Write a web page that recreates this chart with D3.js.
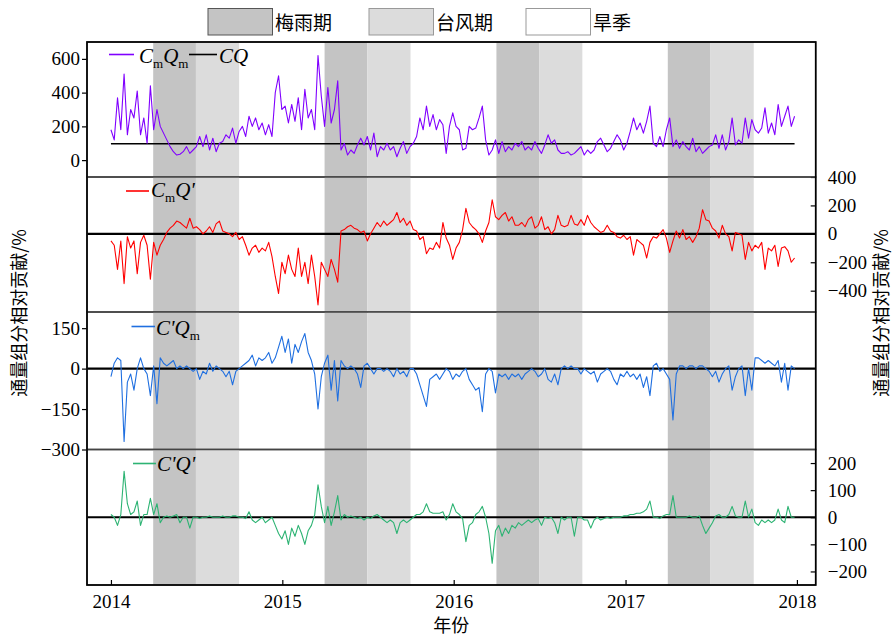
<!DOCTYPE html>
<html><head><meta charset="utf-8">
<script src="https://cdn.jsdelivr.net/npm/d3@7"></script>
<style>body{margin:0;background:#fff}svg{display:block}</style>
</head><body>
<svg id="c" width="892" height="637"></svg>
<script>
// ---- data (weekly samples from 2014-01-01) ----
const startDate = "2014-01-01";
const yearTicks = [2014, 2015, 2016, 2017, 2018];
const seasonYears = [2014, 2015, 2016, 2017];
const meiyu = ["04-01", "07-01"];
const typhoon = ["07-01", "10-01"];
const CQ = 97;

const CmQm = [180,120,370,180,510,150,300,250,410,150,250,100,440,180,300,200,160,120,80,50,
30,35,50,80,40,60,80,140,80,150,60,130,50,100,110,150,130,190,100,170,
200,140,260,200,250,180,220,150,210,140,400,500,300,320,220,330,230,370,180,420,
250,300,180,620,380,200,430,220,300,470,60,100,30,60,40,90,130,90,140,60,
160,20,80,60,100,60,80,20,70,110,40,80,100,140,250,180,320,200,270,180,
240,210,40,200,280,200,180,60,70,200,180,190,250,320,120,30,60,120,40,110,
50,80,60,100,80,110,60,80,60,110,70,40,90,150,100,120,60,40,40,50,
30,40,60,80,30,60,40,60,110,130,90,50,70,110,150,120,60,100,170,250,
180,220,160,230,320,100,80,140,80,180,250,80,120,70,110,80,60,130,50,80,
40,60,80,90,150,70,150,60,110,250,90,120,100,250,130,240,180,160,190,310,
160,220,150,330,200,260,320,200,260];

const CmQp = [-50,-80,-250,-50,-350,-20,-100,-50,-280,-60,-10,-80,-320,-60,-150,-80,-40,10,40,60,
90,80,60,40,110,40,50,30,0,20,50,10,70,90,20,10,0,-20,10,-40,
-20,-80,-150,-100,-80,-130,-100,-120,-60,-160,-300,-420,-200,-280,-150,-250,-300,-100,-300,-200,
-350,-150,-300,-500,-200,-250,-300,-180,-250,-340,20,30,50,60,40,30,10,20,-50,0,
40,80,50,90,60,80,100,150,80,110,60,90,30,20,-40,-20,-140,-100,-110,-60,
-100,80,-30,-80,-180,-100,-60,30,180,80,50,30,0,-60,20,80,240,120,100,130,
150,90,120,60,60,80,50,100,120,40,60,120,30,50,0,30,130,60,50,60,
130,70,60,100,60,130,80,50,30,10,20,60,20,10,-20,-30,-10,-40,-20,-150,
-40,-60,-80,-170,-60,-20,-30,0,30,-30,-130,-50,20,-30,30,-40,-20,-60,-20,40,
170,100,90,40,20,-30,60,0,-20,-120,10,0,-10,-180,-60,-120,-80,-100,-60,-250,
-100,-120,-80,-230,-100,-90,-120,-200,-170];

const CpQm = [-30,20,40,30,-270,-50,-20,-80,0,40,0,-20,-100,10,-130,40,20,10,20,30,
0,10,0,10,0,-10,0,-40,-10,-20,20,-10,10,0,-10,-30,-10,-60,-10,0,
10,20,30,50,10,40,30,40,60,20,40,80,120,60,110,20,90,60,100,130,
60,30,-20,-150,-30,20,50,-80,30,-120,30,10,0,10,0,-20,-70,10,20,0,
-20,0,0,-10,0,-10,-30,0,-20,-10,-30,0,0,-20,-60,-100,-140,-40,-30,-20,
-40,-20,0,-10,-40,-20,-30,-10,0,-40,-60,-80,-70,-160,-20,0,-10,-90,-20,-30,
-20,-40,-20,-30,-20,-40,-20,-10,0,-10,-30,-20,0,-40,-50,-20,-60,0,10,0,
10,0,0,-20,0,-10,-20,-10,-50,-20,-10,0,-10,-40,-60,-20,-30,-10,-30,-20,
-40,-20,-70,-30,-100,10,20,-10,0,-20,-40,-190,-20,10,10,0,10,10,0,10,
10,0,-10,-30,-10,-50,-20,0,10,-80,-30,0,10,-100,0,-80,40,40,30,20,
30,20,10,30,-50,20,-80,10,0];

const CpQp = [10,0,-30,10,170,50,10,20,60,-30,10,10,70,10,50,-20,0,5,0,5,
10,-20,0,0,-40,0,0,-5,0,0,5,0,0,0,5,0,0,5,5,0,
0,-5,20,-10,-20,-10,0,-20,-10,0,-30,-60,-80,-50,-100,-40,-70,-30,-60,-100,
-50,-30,10,120,40,-20,40,-30,20,80,-10,10,0,5,0,-5,0,-10,0,-5,
5,10,0,-10,-20,-10,-20,-60,-20,-10,-20,-10,0,10,10,20,50,20,15,15,
15,20,-10,10,50,20,10,-5,-90,-30,-20,10,20,40,0,-60,-170,-50,-30,-70,
-40,-60,-30,-40,-20,-30,-20,-10,-20,-10,-5,-30,0,-5,0,-20,-60,0,-10,0,
0,-70,0,0,-10,-10,-40,-10,0,-10,-5,0,-5,0,0,0,5,5,10,10,
15,15,20,30,60,0,0,-5,5,10,10,80,0,0,0,0,5,0,0,5,
-30,-60,-40,-20,5,10,0,0,10,40,5,0,0,60,0,30,-20,-30,-10,-20,
-10,-20,-10,30,-10,-20,40,0,0];

const panelDefs = [
  {series: CmQm, color: "#8000ff", domain: [-100, 700], ticks: [0,200,400,600], side: "left", zero: false},
  {series: CmQp, color: "#ff0000", domain: [-550, 400], ticks: [-400,-200,0,200,400], side: "right", zero: true},
  {series: CpQm, color: "#1f6fe0", domain: [-300, 210], ticks: [-300,-150,0,150], side: "left", zero: true},
  {series: CpQp, color: "#2db373", domain: [-250, 250], ticks: [-200,-100,0,100,200], side: "right", zero: true}
];

// ---- layout ----
const L = 87, R = 815.7;
const bounds = [42, 177, 312, 449.5, 585];
const svg = d3.select("#c");
const numFont = "'Liberation Serif', 'Times New Roman', serif";
const cjkFont = "'Noto Sans CJK SC', 'Noto Sans', sans-serif";

const parse = d3.timeParse("%Y-%m-%d");
const t0 = parse(startDate);
const x = d3.scaleTime()
  .domain([d3.timeDay.offset(parse("2014-01-01"), -50.5), d3.timeDay.offset(parse("2018-01-01"), 40.5)])
  .range([L, R]);

const dates = CmQm.map((_, i) => d3.timeDay.offset(t0, 7 * i));

panelDefs.forEach((p, k) => {
  const top = bounds[k], bot = bounds[k + 1];
  const y = d3.scaleLinear().domain(p.domain).range([bot, top]);
  const g = svg.append("g");
  const cid = "clip" + k;
  g.append("clipPath").attr("id", cid).append("rect")
    .attr("x", L).attr("y", top).attr("width", R - L).attr("height", bot - top);
  const inner = g.append("g").attr("clip-path", `url(#${cid})`);
  // seasons
  seasonYears.forEach(yr => {
    const m0 = parse(`${yr}-${meiyu[0]}`), m1 = parse(`${yr}-${meiyu[1]}`);
    const t1 = parse(`${yr}-${typhoon[0]}`), t2 = parse(`${yr}-${typhoon[1]}`);
    inner.append("rect").attr("x", x(m0)).attr("y", top).attr("width", x(m1) - x(m0)).attr("height", bot - top).attr("fill", "#c4c4c4");
    inner.append("rect").attr("x", x(t1)).attr("y", top).attr("width", x(t2) - x(t1)).attr("height", bot - top).attr("fill", "#dcdcdc");
  });
  // zero / CQ line
  if (p.zero) {
    inner.append("line").attr("x1", L).attr("x2", R).attr("y1", y(0)).attr("y2", y(0))
      .attr("stroke", "#000").attr("stroke-width", 2.2);
  } else {
    inner.append("line").attr("x1", x(dates[0])).attr("x2", x(dates[dates.length - 1]))
      .attr("y1", y(CQ)).attr("y2", y(CQ)).attr("stroke", "#000").attr("stroke-width", 1.3);
  }
  // series
  const line = d3.line().x((d, i) => x(dates[i])).y(d => y(d));
  inner.append("path").datum(p.series).attr("d", line)
    .attr("fill", "none").attr("stroke", p.color).attr("stroke-width", 1.1).attr("stroke-linejoin", "round");
  // axis
  let ax;
  if (p.side === "left") {
    ax = d3.axisLeft(y).tickValues(p.ticks).tickSize(5).tickPadding(2);
    g.append("g").attr("transform", `translate(${L},0)`).call(ax);
  } else {
    ax = d3.axisRight(y).tickValues(p.ticks).tickSize(-5).tickPadding(12);
    g.append("g").attr("transform", `translate(${R},0)`).call(ax);
  }
  g.selectAll(".domain").remove();
  g.selectAll(".tick line").attr("stroke", "#000").attr("stroke-width", 1.2);
  g.selectAll(".tick text").attr("font-family", numFont).attr("font-size", 19).attr("fill", "#000");
  // frame
  g.append("rect").attr("x", L).attr("y", top).attr("width", R - L).attr("height", bot - top)
    .attr("fill", "none").attr("stroke", "#444").attr("stroke-width", 1.5);
});

// outer frame
svg.append("rect").attr("x", L).attr("y", bounds[0]).attr("width", R - L).attr("height", bounds[4] - bounds[0])
  .attr("fill", "none").attr("stroke", "#000").attr("stroke-width", 1.6);

// x axis
const xa = svg.append("g").attr("transform", `translate(0,${bounds[4]})`)
  .call(d3.axisBottom(x).tickValues(yearTicks.map(v => parse(`${v}-01-01`))).tickFormat(d3.timeFormat("%Y")).tickSize(-5).tickPadding(10));
xa.select(".domain").remove();
xa.selectAll(".tick line").attr("stroke", "#000").attr("stroke-width", 1.2);
xa.selectAll(".tick text").attr("font-family", numFont).attr("font-size", 19).attr("fill", "#000");

// axis titles
svg.append("text").attr("x", (L + R) / 2).attr("y", 632).attr("text-anchor", "middle")
  .attr("font-family", cjkFont).attr("font-size", 18).text("年份");
const ylab = "通量组分相对贡献/%";
svg.append("text").attr("transform", `translate(26,313) rotate(-90)`).attr("text-anchor", "middle")
  .attr("font-family", cjkFont).attr("font-size", 18).text(ylab);
svg.append("text").attr("transform", `translate(888,313) rotate(-90)`).attr("text-anchor", "middle")
  .attr("font-family", cjkFont).attr("font-size", 18).text(ylab);

// top legend
const seasonLegend = [
  {label: "梅雨期", fill: "#c4c4c4", stroke: "#555", x: 208},
  {label: "台风期", fill: "#dcdcdc", stroke: "#999", x: 369},
  {label: "旱季", fill: "#ffffff", stroke: "#999", x: 526}
];
seasonLegend.forEach(s => {
  svg.append("rect").attr("x", s.x).attr("y", 8.5).attr("width", 64.5).attr("height", 26.5)
    .attr("fill", s.fill).attr("stroke", s.stroke).attr("stroke-width", 1);
  svg.append("text").attr("x", s.x + 67).attr("y", 30).attr("font-family", cjkFont).attr("font-size", 19).text(s.label);
});

// panel legends
function legendLabel(xp, yp, parts) {
  const t = svg.append("text").attr("x", xp).attr("y", yp).attr("font-family", numFont).attr("font-size", 21);
  let sub = false;
  parts.forEach(pt => {
    const s = t.append("tspan").text(pt.t);
    if (pt.sub) { s.attr("font-size", 13).attr("dy", sub ? 0 : 5); sub = true; }
    else { s.attr("font-style", "italic"); if (sub) { s.attr("dy", -5); sub = false; } }
  });
}
const legs = [
  {x1: 109, x2: 134, y: 54.5, color: "#8000ff", tx: 139, ty: 63, parts: [{t:"C"},{t:"m",sub:1},{t:"Q"},{t:"m",sub:1}]},
  {x1: 126, x2: 149, y: 191, color: "#ff0000", tx: 151, ty: 197, parts: [{t:"C"},{t:"m",sub:1},{t:"Q'"}]},
  {x1: 131.5, x2: 155, y: 326.5, color: "#1f6fe0", tx: 156, ty: 335, parts: [{t:"C'Q"},{t:"m",sub:1}]},
  {x1: 133, x2: 156, y: 463.5, color: "#2db373", tx: 157, ty: 471, parts: [{t:"C'Q'"}]}
];
legs.forEach(l => {
  svg.append("line").attr("x1", l.x1).attr("x2", l.x2).attr("y1", l.y).attr("y2", l.y)
    .attr("stroke", l.color).attr("stroke-width", 1.6);
  legendLabel(l.tx, l.ty, l.parts);
});
svg.append("line").attr("x1", 189).attr("x2", 217).attr("y1", 54.5).attr("y2", 54.5).attr("stroke", "#000").attr("stroke-width", 1.6);
legendLabel(219, 63, [{t:"CQ"}]);
</script>
</body></html>
